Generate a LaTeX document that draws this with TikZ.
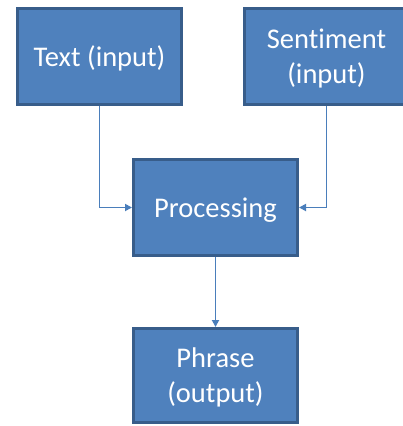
\documentclass[tikz,border=0pt]{standalone}
\usepackage{fontspec}
\setmainfont{Carlito}[Ligatures=NoCommon]
\usetikzlibrary{arrows.meta}
\definecolor{boxfill}{HTML}{4F81BD}
\definecolor{boxedge}{HTML}{385D8A}
\definecolor{linkcol}{HTML}{4A7EBB}
\begin{document}
\begin{tikzpicture}[x=1pt,y=-1pt,
  block/.style={draw=boxedge, line width=3pt, fill=boxfill, text=white,
    minimum width=164pt, minimum height=96pt, inner sep=0pt, align=center,
    text depth=0pt, font=\fontsize{28.5}{35}\selectfont},
  link/.style={draw=linkcol, line width=1.8pt,
    -{Triangle[length=7pt,width=7pt]}}]
  \useasboundingbox (0,0) rectangle (403,426);
  \begin{scope}
    \clip (0,0) rectangle (403,426);
    \node[block] (txt) at (99.5,56.5) {Text (input)};
    \node[block] (sent) at (326.5,56.5) {Sentiment\\(input)};
    \node[block] (proc) at (215.5,207.5) {Processing};
    \node[block, minimum height=94pt] (phr) at (215.5,375.5) {Phrase\\(output)};
  \end{scope}
  \draw[link] (txt.south) |- (proc.west);
  \draw[link] (sent.south) |- (proc.east);
  \draw[link] (proc.south) -- (phr.north);
\end{tikzpicture}
\end{document}
